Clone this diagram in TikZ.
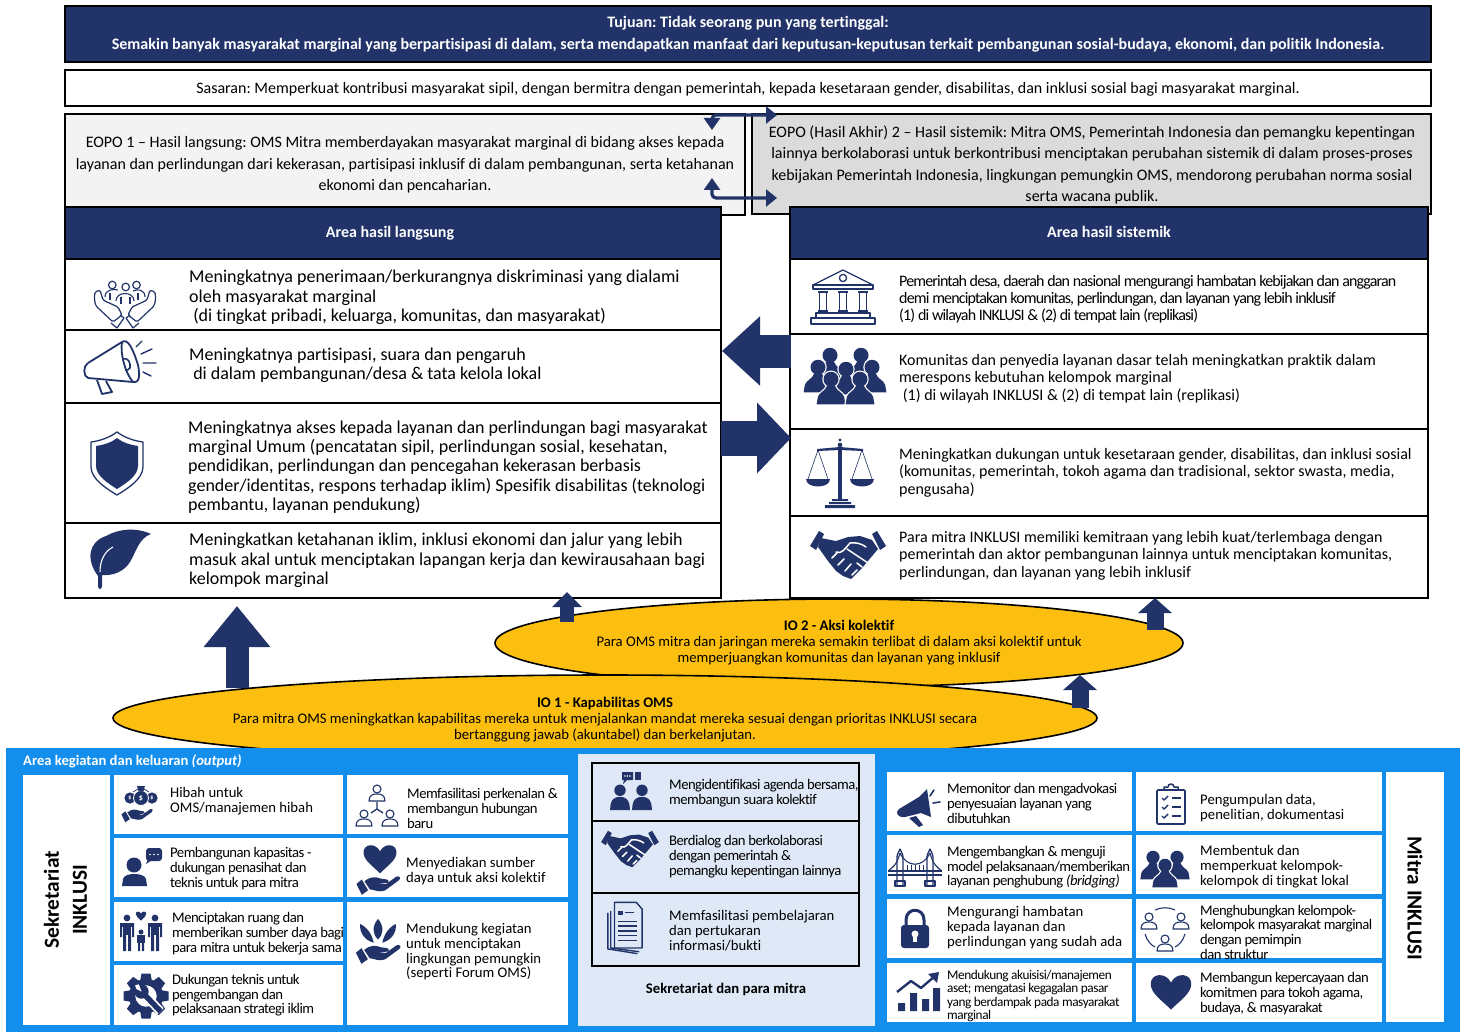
\documentclass[tikz,border=0pt]{standalone}
\usepackage{fontspec}
\setmainfont{Carlito}[Ligatures=NoCommon]
\usetikzlibrary{arrows.meta,shapes.geometric}
\definecolor{navy}{HTML}{213368}
\definecolor{panelblue}{HTML}{148EEC}
\definecolor{midpanel}{HTML}{DEE8F6}
\definecolor{ioyellow}{HTML}{FDBF0F}
\definecolor{eopoa}{HTML}{F3F3F3}
\definecolor{eopob}{HTML}{DBDBDB}
\newcommand{\bx}[6]{\pgfmathsetmacro\bw{#4-#2}\pgfmathsetmacro\bh{#5-#3}\node[#6,minimum width=\bw pt,minimum height=\bh pt,anchor=north west,inner sep=0pt,outer sep=0pt] (#1) at (#2,#3) {};}
\newcommand{\tx}[6]{\node[anchor=west,align=left,inner sep=0pt,text=black,yshift=-1pt,font=\fontsize{#4}{#5}\selectfont] (#1) at (#2,#3) {#6};}
\newcommand{\txs}[7]{\node[anchor=west,align=left,inner sep=0pt,text=black,yshift=-1pt,font=\fontsize{#4}{#5}\selectfont\addfontfeature{LetterSpace=#7}] (#1) at (#2,#3) {#6};}
\newcommand{\ct}[6]{\node[anchor=center,align=center,inner sep=0pt,text=black,yshift=-1.5pt,font=\fontsize{#4}{#5}\selectfont] (#1) at (#2,#3) {#6};}
\tikzset{
 navybox/.style={draw=black,line width=2.2pt,fill=navy},
 whitebox/.style={draw=black,line width=2pt,fill=white},
 cellbox/.style={fill=white},
 midcell/.style={draw=black,line width=2.2pt,fill=midpanel},
 blockarrow/.style={navy,line width=#1,line cap=butt},
 ln/.style={draw=navy,line width=1.3pt,line join=round,fill=none},
 ico heart/.pic={\fill[navy] (0,13) .. controls (-7,6) and (-15,1) .. (-15,-6) .. controls (-15,-14) and (-4,-15) .. (0,-7) .. controls (4,-15) and (15,-14) .. (15,-6) .. controls (15,1) and (7,6) .. (0,13) -- cycle;},
 ico hand/.pic={
  \fill[navy] (-24,10) -- (-18,5) -- (-11,17) -- (-18,22) -- cycle;
  \fill[navy] (-15,7) .. controls (-8,1) and (-2,2) .. (3,4) -- (10,5) .. controls (13,6) and (12,9) .. (8,9) -- (0,10) -- (9,10) -- (20,2) .. controls (24,0) and (26,4) .. (23,6) -- (8,17) .. controls (0,20) and (-4,16) .. (-9,16) -- cycle;},
 ico pf/.pic={
  \fill[navy] (0,-7) circle (5.2);
  \fill[navy] (-9,11) .. controls (-9,0) and (-4,-1) .. (0,-1) .. controls (4,-1) and (9,0) .. (9,11) -- cycle;},
 ico pw/.pic={
  \draw[white,line width=2.4pt] (-11.5,13) -- (-10.5,7) .. controls (-9,3) and (-5,3) .. (-3,-2) -- (3,-2) .. controls (5,3) and (9,3) .. (10.5,7) -- (11.5,13) -- cycle;
  \draw[white,line width=2.4pt] (0,-7) circle (6);
  \fill[navy] (-11.5,13) -- (-10.5,7) .. controls (-9,3) and (-5,3) .. (-3,-2) -- (3,-2) .. controls (5,3) and (9,3) .. (10.5,7) -- (11.5,13) -- cycle;
  \fill[navy] (0,-7) circle (6);},
 ico po/.pic={
  \draw[ln,line width=1.1pt] (0,-5) circle (4);
  \draw[ln,line width=1.1pt] (-8,7) .. controls (-8,1) and (-4,0) .. (0,0) .. controls (4,0) and (8,1) .. (8,7) -- cycle;},
 ico shake/.pic={
  \fill[navy] (-38,-9) -- (-29,-24) -- (-24,-21) -- (-32,-5) -- cycle;
  \fill[navy] (38,-9) -- (29,-24) -- (24,-21) -- (32,-5) -- cycle;
  \fill[navy] (-27,-17) -- (-12,-14) -- (0,-18) -- (12,-19) -- (24,-15) -- (30,-6) -- (14,13) -- (3,24) -- (-5,21) -- (-12,16) -- (-20,6) -- (-30,-8) -- cycle;
  \draw[white,line width=1.5pt,line cap=round] (-12,-3) .. controls (-6,0) and (-2,-8) .. (2,-12) .. controls (8,-13) and (14,-11) .. (18,-8);
  \draw[white,line width=1.5pt,line cap=round] (-1,-6) -- (20,8) (-16,3) -- (-11,-2) (-10,10) -- (-4,4) (-3,16) -- (3,9) (4,20) -- (9,15) (9,8) -- (14,12);
 },
 ico shield/.pic={
  \draw[ln] (0,-31) .. controls (-8,-25) and (-18,-22) .. (-26,-21) -- (-26,4) .. controls (-26,16) and (-10,26) .. (0,32) .. controls (10,26) and (26,16) .. (26,4) -- (26,-21) .. controls (18,-22) and (8,-25) .. (0,-31) -- cycle;
  \fill[navy] (0,-25) .. controls (-6,-20) and (-14,-18) .. (-21,-17) -- (-21,3) .. controls (-21,13) and (-8,21) .. (0,26) .. controls (8,21) and (21,13) .. (21,3) -- (21,-17) .. controls (14,-18) and (6,-20) .. (0,-25) -- cycle;},
 ico leaf/.pic={
  \fill[navy] (-22,20) .. controls (-34,4) and (-32,-14) .. (-14,-20) .. controls (-2,-27) and (16,-29) .. (31,-22) .. controls (19,-18) and (16,-4) .. (10,6) .. controls (4,16) and (-8,20) .. (-18,19) -- (-18,30) .. controls (-18,34) and (-22,34) .. (-22,30) -- cycle;
  \draw[white,line width=1.1pt] (-20,16) .. controls (-20,4) and (-15,-5) .. (-7,-9);},
 ico care/.pic={
  \foreach \s in {1,-1}{
   \draw[ln,line width=1.2pt,rounded corners=1.5pt] (\s*-30,-11) .. controls (\s*-31,-4) and (\s*-30,1) .. (\s*-28,4) -- (\s*-12,19) -- (\s*-3,12) -- (\s*-7,4) -- (\s*-18,-1) -- (\s*-22,-3) -- (\s*-25,-13) -- cycle;
   \draw[ln,line width=1.2pt] (\s*-14,20) -- (\s*-8,25) -- (\s*-1,15) -- (\s*-5,12);
  }
  \draw[ln,line width=1.2pt] (-12.7,-18) circle (3.8) (.7,-16) circle (3.8) (11.5,-18) circle (3.8);
  \draw[ln,line width=1.1pt] (-20,-6) .. controls (-20,-14) and (-11,-14) .. (-7,-13) (8,-12) .. controls (12,-14) and (20,-14) .. (20,-6);
  \draw[ln,line width=1.1pt] (-9,-2) .. controls (-9,-12) and (9,-12) .. (9,-2);
  \draw[ln,line width=1.1pt] (-15,-10) -- (-15,-3) (13,-10) -- (13,-3) (-4,-6) -- (-4,1) (5,-6) -- (5,1);},
 ico horn/.pic={
  \draw[ln,line width=1.8pt] (-32,-6) -- (2,-27) (-32,9) -- (13,13);
  \draw[ln,line width=1.8pt] (-32,-6) .. controls (-37,-3) and (-37,7) .. (-32,9);
  \draw[ln,line width=1.8pt] (2,-27) .. controls (8,-31) and (13,-20) .. (18,-4) .. controls (20,6) and (20,14) .. (13,13);
  \draw[ln,line width=1.8pt] (2,-27) .. controls (0,-16) and (5,4) .. (13,13);
  \draw[ln,line width=1.6pt] (3,-10) .. controls (8,-12) and (11,-6) .. (10,-1) (10,-1) .. controls (9,1) and (7,1) .. (5,1);
  \draw[ln,line width=1.8pt] (-23,11) -- (-18,25) -- (-8,23) -- (-14,12);
  \draw[ln,line width=1.4pt,line cap=round] (16,-22) -- (22,-28) (21,-15) -- (32,-20) (23,-6) -- (36,-6) (23,3) -- (31,7);},
 ico temple/.pic={
  \begin{scope}[line width=1.3pt]
  \draw[ln] (-30,-13) -- (0,-28) -- (30,-13) -- cycle;
  \draw[ln] (0,-20) circle (3.6);
  \draw[ln] (-30,-13) rectangle (30,-9);
  \foreach \xx in {-20,0,20}{
   \draw[ln] (\xx-5,-6) -- (\xx+5,-6) (\xx-3.5,-6) -- (\xx-3.5,13) (\xx+3.5,-6) -- (\xx+3.5,13) (\xx-5,13) -- (\xx+5,13);
  }
  \draw[ln] (-27,15) rectangle (27,20);
  \draw[ln] (-32,20) rectangle (32,26);
  \end{scope}},
 ico crowd/.pic={
  \foreach \xx/\yy in {-16/-11,15/-11,-28/1,0/3,26/1}{\pic[scale=1.25] at (\xx,\yy) {ico pw};}
  \foreach \xx/\yy in {-15/13,14/13}{\pic[scale=1.25] at (\xx,\yy) {ico pw};}},
 ico scales/.pic={
  \fill[navy] (-1.8,-28) rectangle (1.8,24);
  \fill[navy] (0,-35) circle (1.6) (0,-30) circle (2.3);
  \fill[navy] (-23,-26) -- (0,-28) -- (23,-26) -- (23,-24) -- (0,-25) -- (-23,-24) -- cycle;
  \fill[navy] (-8,24) rectangle (8,26) (-11,27) rectangle (11,29) (-15,30) rectangle (15,33);
  \foreach \s in {-1,1}{
   \draw[navy,line width=.6pt] (\s*22,-25) -- (\s*12,4) (\s*22,-25) -- (\s*32,4);
   \fill[navy] (\s*10,4) -- (\s*34,4) .. controls (\s*34,14) and (\s*10,14) .. (\s*10,4) -- cycle;
  }},
 ico money/.pic={
  \fill[navy] (-11,-10) circle (5.6) (11,-10) circle (5.6);
  \path[fill=navy,draw=white,line width=.8pt] (0,-10) circle (7.5);
  \fill[navy] (-4,-22) -- (4,-22) -- (2.5,-17) -- (-2.5,-17) -- cycle;
  \draw[navy,line width=.7pt] (-8,-16) -- (-3,-19) (8,-16) -- (3,-19);
  \node[text=white,font=\fontsize{8}{8}\selectfont\bfseries,inner sep=0pt] (mc) at (0,-10) {\$};
  \node[text=white,font=\fontsize{6}{6}\selectfont\bfseries,inner sep=0pt] (ml) at (-11,-10) {\$};
  \node[text=white,font=\fontsize{6}{6}\selectfont\bfseries,inner sep=0pt] (mr) at (11,-10) {\$};
  \pic[scale=.65] at (-4,0) {ico hand};},
 ico advisor/.pic={
  \fill[navy] (-11,-3) circle (7.5);
  \fill[navy] (-23,18) -- (-22,11) .. controls (-21,7) and (-15,6) .. (-11,6) .. controls (-6,6) and (0,7) .. (1,11) -- (2,18) -- cycle;
  \fill[navy,rounded corners=3pt] (1,-20) rectangle (17,-7);
  \fill[navy] (3,-9) -- (7,-8) -- (1,-4) -- cycle;
  \fill[white] (5,-13.5) circle (.9) (9,-13.5) circle (.9) (13,-13.5) circle (.9);},
 ico family/.pic={
  \foreach \xx in {-14,14}{
   \fill[navy] (\xx,-13) circle (3.4);
   \fill[navy] (\xx-7,-8) rectangle (\xx+7,-4);
   \fill[navy] (\xx-7,-8) rectangle (\xx-5,6) (\xx+5,-8) rectangle (\xx+7,6);
   \fill[navy] (\xx-4,-8) rectangle (\xx+4,4);
   \fill[navy] (\xx-4,4) rectangle (\xx-1,20) (\xx+1,4) rectangle (\xx+4,20);
  }
  \fill[navy] (0,1) circle (2.5);
  \fill[navy] (-4,4) rectangle (4,12);
  \fill[navy] (-3,12) rectangle (-.8,20) (.8,12) rectangle (3,20);
  \pic[scale=.35] at (0,-15) {ico heart};},
 ico gear/.pic={
  \foreach \a in {0,45,...,315}{\fill[navy,rotate=\a] (-5,-25) -- (5,-25) -- (7,-14) -- (-7,-14) -- cycle;}
  \fill[navy,even odd rule] (0,0) circle (19) (0,0) circle (12);
  \draw[white,line width=9pt] (-3,-3) -- (16,17);
  \draw[navy,line width=5.5pt] (-3,-3) -- (16,17);
  \fill[navy] (-5,-5) circle (8);
  \fill[white] (-11,-8) -- (-5,-5) -- (-8,-13) -- (-12,-12) -- cycle;},
 ico network/.pic={
  \pic at (0,-14) {ico po};
  \pic at (-13,11) {ico po};
  \pic at (13,11) {ico po};
  \draw[ln] (0,-6) -- (0,1) (0,1) -- (-6,5) (0,1) -- (6,5);},
 ico heartHand/.pic={
  \pic[scale=1.1] at (2,-9) {ico heart};
  \pic[scale=.9] at (0,7) {ico hand};},
 ico plant/.pic={
  \fill[navy] (0,-26) .. controls (-7,-18) and (-7,-8) .. (0,-2) .. controls (7,-8) and (7,-18) .. (0,-26) -- cycle;
  \fill[navy] (-21,-20) .. controls (-22,-10) and (-16,-1) .. (-5,2) .. controls (-7,-7) and (-12,-16) .. (-21,-20) -- cycle;
  \fill[navy] (21,-20) .. controls (22,-10) and (16,-1) .. (5,2) .. controls (7,-7) and (12,-16) .. (21,-20) -- cycle;
  \pic[scale=.92] at (0,3) {ico hand};},
 ico chat/.pic={
  \pic[scale=1.1] at (-11,8) {ico pf};
  \pic[scale=1.1] at (11,8) {ico pf};
  \fill[navy] (-9,-18) -- (2,-18) -- (2,-10) -- (-4,-10) -- (-8,-6) -- (-7,-10) -- (-9,-10) -- cycle;
  \fill[navy] (4,-18) -- (10,-18) -- (10,-10) -- (4,-10) -- cycle;
  \fill[white] (-6,-14) circle (.8) (-3.5,-14) circle (.8) (-1,-14) circle (.8);},
 ico docs/.pic={
  \draw[ln,line width=1.4pt] (-17,-16) -- (-17,22) -- (14,27);
  \draw[ln,line width=1.4pt] (-14,-18) -- (-14,21) -- (16,25);
  \draw[ln,line width=1.4pt,fill=midpanel] (-10,-27) -- (13,-27) -- (19,-20) -- (19,21) -- (-10,21) -- cycle;
  \fill[navy] (-6,-18) rectangle (-1,-14);
  \draw[ln] (1,-16) -- (11,-16) (-6,-7) -- (14,-7) (-6,-2) -- (14,-2) (-6,3) -- (14,3) (-6,8) -- (14,8) (-6,13) -- (14,13);},
 ico hornf/.pic={
  \fill[navy] (-22,4) -- (-2,-8) -- (6,-16) -- (10,12) -- (0,8) -- (-16,12) .. controls (-24,13) and (-26,7) .. (-22,4) -- cycle;
  \fill[navy] (-12,13) -- (-5,11) -- (2,20) -- (-2,22) -- cycle;
  \draw[navy,line width=1.6pt,line cap=round] (9,-9) -- (13,-15) (12,-2) -- (19,-3);},
 ico bridge/.pic={
  \foreach \xx in {-15,15}{
   \draw[ln] (\xx-3,18) -- (\xx-3,-11) .. controls (\xx-3,-15) and (\xx,-17) .. (\xx,-19) .. controls (\xx,-17) and (\xx+3,-15) .. (\xx+3,-11) -- (\xx+3,18);
   \draw[ln] (\xx-5,13) -- (\xx+5,13) -- (\xx+5,18) -- (\xx-5,18) -- cycle;
  }
  \draw[ln,line width=1.1pt] (-27,3) -- (27,3) (-27,7) -- (27,7);
  \draw[ln,line width=1.1pt] (-15,-15) .. controls (-8,0) and (8,0) .. (15,-15);
  \draw[ln,line width=1.1pt] (-15,-15) .. controls (-18,-3) and (-23,0) .. (-27,3) (15,-15) .. controls (18,-3) and (23,0) .. (27,3);
  \foreach \xx in {-8,-4,0,4,8}{\draw[ln,line width=.8pt] (\xx,-3) -- (\xx,3);}},
 ico lock/.pic={
  \draw[navy,line width=3pt] (-9,-3) -- (-9,-9) .. controls (-9,-22) and (9,-22) .. (9,-9) -- (9,-3);
  \fill[navy,rounded corners=3pt] (-14,-4) rectangle (14,19);
  \fill[white] (0,5) circle (3.5);
  \fill[white] (-2,6) rectangle (2,13);},
 ico chart/.pic={
  \fill[navy] (-19,12) rectangle (-12,20) (-7,2) rectangle (0,20) (5,8) rectangle (12,20) (16,-3) rectangle (23,20);
  \draw[navy,line width=2.4pt,line join=round] (-20,1) -- (-6,-10) -- (4,-3) -- (18,-15);
  \fill[navy] (22,-19) -- (11,-17) -- (20,-8) -- cycle;},
 ico clip/.pic={
  \draw[ln,line width=1.7pt,rounded corners=1pt] (-14,-14) rectangle (14,20);
  \draw[ln,line width=1.5pt] (-7,-14) -- (-7,-17) -- (-3,-17) .. controls (-3,-21) and (3,-21) .. (3,-17) -- (7,-17) -- (7,-14) -- cycle;
  \foreach \yy in {-6,3,12}{
   \draw[ln,line width=1.4pt] (-9,\yy) -- (-7,\yy+2) -- (-3,\yy-2);
   \draw[ln,line width=1.7pt] (1,\yy) -- (10,\yy);
  }},
 ico three/.pic={
  \pic[scale=1.1] at (-12,-3) {ico pw};
  \pic[scale=1.1] at (12,-3) {ico pw};
  \pic[scale=1.1] at (0,5) {ico pw};},
 ico ring/.pic={
  \pic at (-16,-7) {ico po};
  \pic at (16,-7) {ico po};
  \pic at (0,15) {ico po};
  \draw[ln,line width=1.1pt] (-10,-19) .. controls (-4,-22) and (4,-22) .. (10,-19);
  \draw[ln,line width=1.1pt] (-20,5) .. controls (-18,12) and (-14,16) .. (-10,18);
  \draw[ln,line width=1.1pt] (20,5) .. controls (18,12) and (14,16) .. (10,18);},
}
\begin{document}
\frenchspacing
\begin{tikzpicture}[x=1pt,y=-1pt]
\useasboundingbox (0,0) rectangle (1464,1032);
% top boxes
\bx{goal}{65}{6}{1431}{62}{navybox}
\node[text=white,align=center,inner sep=0pt,font=\fontsize{16}{22}\selectfont\bfseries] (goaltext) at (goal.center) {Tujuan: Tidak seorang pun yang tertinggal:\\Semakin banyak masyarakat marginal yang berpartisipasi di dalam, serta mendapatkan manfaat dari keputusan-keputusan terkait pembangunan sosial-budaya, ekonomi, dan politik Indonesia.};
\bx{target}{65}{70}{1431}{106}{whitebox}
\ct{targettext}{748}{88}{16}{18}{Sasaran: Memperkuat kontribusi masyarakat sipil, dengan bermitra dengan pemerintah, kepada kesetaraan gender, disabilitas, dan inklusi sosial bagi masyarakat marginal.}
\bx{eopoA}{65}{114}{745}{215}{whitebox,fill=eopoa}
\ct{eopoAtext}{405}{163.5}{16}{21.5}{EOPO 1 – Hasil langsung: OMS Mitra memberdayakan masyarakat marginal di bidang akses kepada\\layanan dan perlindungan dari kekerasan, partisipasi inklusif di dalam pembangunan, serta ketahanan\\ekonomi dan pencaharian.}
\bx{eopoB}{752}{114}{1431}{214}{whitebox,fill=eopob}
\ct{eopoBtext}{1092}{163.5}{16}{21.2}{EOPO (Hasil Akhir) 2 – Hasil sistemik: Mitra OMS, Pemerintah Indonesia dan pemangku kepentingan\\lainnya berkolaborasi untuk berkontribusi menciptakan perubahan sistemik di dalam proses-proses\\kebijakan Pemerintah Indonesia, lingkungan pemungkin OMS, mendorong perubahan norma sosial\\serta wacana publik.}
% double connectors between EOPOs
\coordinate (cAa) at (712,130);\coordinate (cAb) at (777,115);
\coordinate (cBa) at (712,178);\coordinate (cBb) at (777,198);
\draw[navy,line width=3.2pt,rounded corners=4pt,{Triangle[length=12pt,width=16pt]}-{Triangle[length=11pt,width=17pt]}] (cAa) |- (cAb);
\draw[navy,line width=3.2pt,rounded corners=4pt,{Triangle[length=12pt,width=16pt]}-{Triangle[length=11pt,width=17pt]}] (cBa) |- (cBb);
% left column
\bx{headA}{65}{207}{721}{259}{navybox}
\node[text=white,inner sep=0pt,font=\fontsize{16}{18}\selectfont\bfseries] (headAtext) at (390,233.5) {Area hasil langsung};
\bx{rowA1}{65}{259}{721}{330}{whitebox}
\bx{rowA2}{65}{330}{721}{403}{whitebox}
\bx{rowA3}{65}{403}{721}{523}{whitebox}
\bx{rowA4}{65}{523}{721}{598}{whitebox}
\tx{rowA1t}{189}{296.5}{18}{19.5}{Meningkatnya penerimaan/berkurangnya diskriminasi yang dialami\\oleh masyarakat marginal\\\ (di tingkat pribadi, keluarga, komunitas, dan masyarakat)}
\tx{rowA2t}{189}{364.5}{18}{19.5}{Meningkatnya partisipasi, suara dan pengaruh\\\ di dalam pembangunan/desa \& tata kelola lokal}
\tx{rowA3t}{188}{466}{18}{19.3}{Meningkatnya akses kepada layanan dan perlindungan bagi masyarakat\\marginal Umum (pencatatan sipil, perlindungan sosial, kesehatan,\\pendidikan, perlindungan dan pencegahan kekerasan berbasis\\gender/identitas, respons terhadap iklim) Spesifik disabilitas (teknologi\\pembantu, layanan pendukung)}
\tx{rowA4t}{189}{559.5}{18}{19.3}{Meningkatkan ketahanan iklim, inklusi ekonomi dan jalur yang lebih\\masuk akal untuk menciptakan lapangan kerja dan kewirausahaan bagi\\kelompok marginal}
% right column
\bx{headB}{790}{207}{1428}{259}{navybox}
\node[text=white,inner sep=0pt,font=\fontsize{16}{18}\selectfont\bfseries] (headBtext) at (1109,232) {Area hasil sistemik};
\bx{rowB1}{790}{259}{1428}{334}{whitebox}
\bx{rowB2}{790}{334}{1428}{429}{whitebox}
\bx{rowB3}{790}{429}{1428}{516}{whitebox}
\bx{rowB4}{790}{516}{1428}{598}{whitebox}
\txs{rowB1t}{899}{298}{16}{17.2}{Pemerintah desa, daerah dan nasional mengurangi hambatan kebijakan dan anggaran\\demi menciptakan komunitas, perlindungan, dan layanan yang lebih inklusif\\(1) di wilayah INKLUSI \& (2) di tempat lain (replikasi)}{-5.3}
\tx{rowB2t}{899}{377.5}{16}{17.5}{Komunitas dan penyedia layanan dasar telah meningkatkan praktik dalam\\merespons kebutuhan kelompok marginal\\\ (1) di wilayah INKLUSI \& (2) di tempat lain (replikasi)}
\tx{rowB3t}{899}{471.5}{16}{17.5}{Meningkatkan dukungan untuk kesetaraan gender, disabilitas, dan inklusi sosial\\(komunitas, pemerintah, tokoh agama dan tradisional, sektor swasta, media,\\pengusaha)}
\tx{rowB4t}{899}{554.5}{16}{17.5}{Para mitra INKLUSI memiliki kemitraan yang lebih kuat/terlembaga dengan\\pemerintah dan aktor pembangunan lainnya untuk menciptakan komunitas,\\perlindungan, dan layanan yang lebih inklusif}
% block arrows between the columns
\coordinate (laS) at (791,351);\coordinate (laT) at (722,351);
\coordinate (raS) at (721,438);\coordinate (raT) at (791,438);
\draw[blockarrow=33pt,-{Triangle[length=38pt,width=67pt]}] (laS) -- (laT);
\draw[blockarrow=35pt,-{Triangle[length=34pt,width=69pt]}] (raS) -- (raT);
% ellipses
\node[ellipse,draw=black,line width=1.6pt,fill=ioyellow,minimum width=688pt,minimum height=88pt,inner sep=0pt] (io2) at (839,643) {};
\node[ellipse,draw=black,line width=1.6pt,fill=ioyellow,minimum width=984pt,minimum height=86pt,inner sep=0pt] (io1) at (605,718) {};
\ct{io2t}{839}{641}{14.7}{16}{\textbf{IO 2 - Aksi kolektif}\\Para OMS mitra dan jaringan mereka semakin terlibat di dalam aksi kolektif untuk\\memperjuangkan komunitas dan layanan yang inklusif}
\ct{io1t}{605}{718}{14.7}{16}{\textbf{IO 1 - Kapabilitas OMS}\\Para mitra OMS meningkatkan kapabilitas mereka untuk menjalankan mandat mereka sesuai dengan prioritas INKLUSI secara\\bertanggung jawab (akuntabel) dan berkelanjutan.}
% upward arrows
\coordinate (upAs) at (237,688);\coordinate (upAt) at (237,606);
\coordinate (upBs) at (567,622);\coordinate (upBt) at (567,592);
\coordinate (upCs) at (1155,630);\coordinate (upCt) at (1155,598);
\coordinate (upDs) at (1080,708);\coordinate (upDt) at (1080,675);
\draw[blockarrow=23pt,-{Triangle[length=41pt,width=64pt]}] (upAs) -- (upAt);
\draw[blockarrow=14pt,-{Triangle[length=15pt,width=29pt]}] (upBs) -- (upBt);
\draw[blockarrow=17pt,-{Triangle[length=15pt,width=33pt]}] (upCs) -- (upCt);
\draw[blockarrow=17pt,-{Triangle[length=15pt,width=33pt]}] (upDs) -- (upDt);
% bottom panel
\bx{panel}{6}{748}{1460}{1032}{fill=panelblue}
\node[anchor=west,inner sep=0pt,text=white,font=\fontsize{14.6}{16}\selectfont\bfseries] (paneltitle) at (23,761.5) {Area kegiatan dan keluaran \textit{(output)}};
\bx{sek}{23}{775}{110}{1025}{cellbox}
\node[rotate=90,align=center,inner sep=0pt,font=\fontsize{21.4}{28}\selectfont\bfseries] (sektext) at (65.5,900) {Sekretariat\\INKLUSI};
\bx{c1}{114}{775}{343}{834}{cellbox}
\bx{c2}{114}{838}{343}{897}{cellbox}
\bx{c3}{114}{902}{343}{961}{cellbox}
\bx{c4}{114}{965}{343}{1025}{cellbox}
\bx{d1}{347}{775}{568}{834}{cellbox}
\bx{d2}{347}{838}{568}{897}{cellbox}
\bx{d3}{347}{902}{568}{1025}{cellbox}
\tx{c1t}{170}{800.5}{14.7}{15}{Hibah untuk\\OMS/manajemen hibah}
\txs{c2t}{170}{867.5}{14.7}{14.6}{Pembangunan kapasitas -\\dukungan penasihat dan\\teknis untuk para mitra}{-3.6}
\txs{c3t}{172}{933}{14.7}{15}{Menciptakan ruang dan\\memberikan sumber daya bagi\\para mitra untuk bekerja sama}{-3.6}
\txs{c4t}{172}{994.5}{14.7}{14.6}{Dukungan teknis untuk\\pengembangan dan\\pelaksanaan strategi iklim}{-3.6}
\txs{d1t}{407}{807}{14.7}{15}{Memfasilitasi perkenalan \&\\membangun hubungan\\baru}{-3.6}
\tx{d2t}{406}{870.5}{14.7}{15}{Menyediakan sumber\\daya untuk aksi kolektif}
\tx{d3t}{406}{951}{14.7}{14.7}{Mendukung kegiatan\\untuk menciptakan\\lingkungan pemungkin\\(seperti Forum OMS)}
\bx{mid}{578}{754}{875}{1026}{fill=midpanel}
\bx{m1}{592}{763}{859}{821}{midcell}
\bx{m2}{592}{821}{859}{893}{midcell}
\bx{m3}{592}{893}{859}{966}{midcell}
\txs{m1t}{669}{792}{14.7}{14.5}{Mengidentifikasi agenda bersama,\\membangun suara kolektif}{-3.6}
\txs{m2t}{669}{856}{14.7}{15}{Berdialog dan berkolaborasi\\dengan pemerintah \&\\pemangku kepentingan lainnya}{-3.6}
\tx{m3t}{669}{930}{14.7}{15}{Memfasilitasi pembelajaran\\dan pertukaran\\informasi/bukti}
\node[inner sep=0pt,font=\fontsize{14.7}{16}\selectfont\bfseries] (midlabel) at (726,989) {Sekretariat dan para mitra};
\bx{r1}{887}{772}{1132}{831}{cellbox}
\bx{r2}{887}{835}{1132}{894}{cellbox}
\bx{r3}{887}{899}{1132}{958}{cellbox}
\bx{r4}{887}{963}{1132}{1022}{cellbox}
\bx{s1}{1136}{772}{1382}{831}{cellbox}
\bx{s2}{1136}{835}{1382}{894}{cellbox}
\bx{s3}{1136}{899}{1382}{958}{cellbox}
\bx{s4}{1136}{963}{1382}{1022}{cellbox}
\bx{mitra}{1386}{772}{1444}{1022}{cellbox}
\node[rotate=-90,inner sep=0pt,font=\fontsize{21.4}{24}\selectfont\bfseries] (mitratext) at (1415,898) {Mitra INKLUSI};
\txs{r1t}{947}{802.5}{14.7}{14.6}{Memonitor dan mengadvokasi\\penyesuaian layanan yang\\dibutuhkan}{-3.6}
\txs{r2t}{947}{866.5}{14.7}{14.6}{Mengembangkan \& menguji\\model pelaksanaan/memberikan\\layanan penghubung \textit{(bridging)}}{-3.6}
\tx{r3t}{947}{927}{14.7}{15}{Mengurangi hambatan\\kepada layanan dan\\perlindungan yang sudah ada}
\txs{r4t}{947}{995}{13.3}{13.4}{Mendukung akuisisi/manajemen\\aset; mengatasi kegagalan pasar\\yang berdampak pada masyarakat\\marginal}{-3.4}
\tx{s1t}{1200}{807.5}{14.7}{15}{Pengumpulan data,\\penelitian, dokumentasi}
\tx{s2t}{1200}{866}{14.7}{15}{Membentuk dan\\memperkuat kelompok-\\kelompok di tingkat lokal}
\txs{s3t}{1200}{931}{14.7}{14.7}{Menghubungkan kelompok-\\kelompok masyarakat marginal\\dengan pemimpin\\dan struktur}{-3.6}
\txs{s4t}{1200}{992.5}{14.7}{14.6}{Membangun kepercayaan dan\\komitmen para tokoh agama,\\budaya, \& masyarakat}{-3.6}
% icons
\pic at (125,303) {ico care};
\pic at (120,369) {ico horn};
\pic at (117,463) {ico shield};
\pic at (120,556) {ico leaf};
\pic at (843,298) {ico temple};
\pic at (846,375) {ico crowd};
\pic at (840,475) {ico scales};
\pic at (848,555) {ico shake};
\pic at (141,808) {ico money};
\pic at (145,868) {ico advisor};
\pic at (141,931) {ico family};
\pic[scale=.9] at (146,996) {ico gear};
\pic at (377,808) {ico network};
\pic at (378,868) {ico heartHand};
\pic[scale=.85] at (378,941) {ico plant};
\pic at (631,790) {ico chat};
\pic[scale=.76] at (630,849) {ico shake};
\pic[scale=.95] at (624,928) {ico docs};
\pic at (921,805) {ico hornf};
\pic at (915,868) {ico bridge};
\pic at (915,929) {ico lock};
\pic at (917,991) {ico chart};
\pic at (1171,804) {ico clip};
\pic at (1165,868) {ico three};
\pic at (1165,929) {ico ring};
\pic[scale=1.35] at (1171,992) {ico heart};
\end{tikzpicture}
\end{document}
